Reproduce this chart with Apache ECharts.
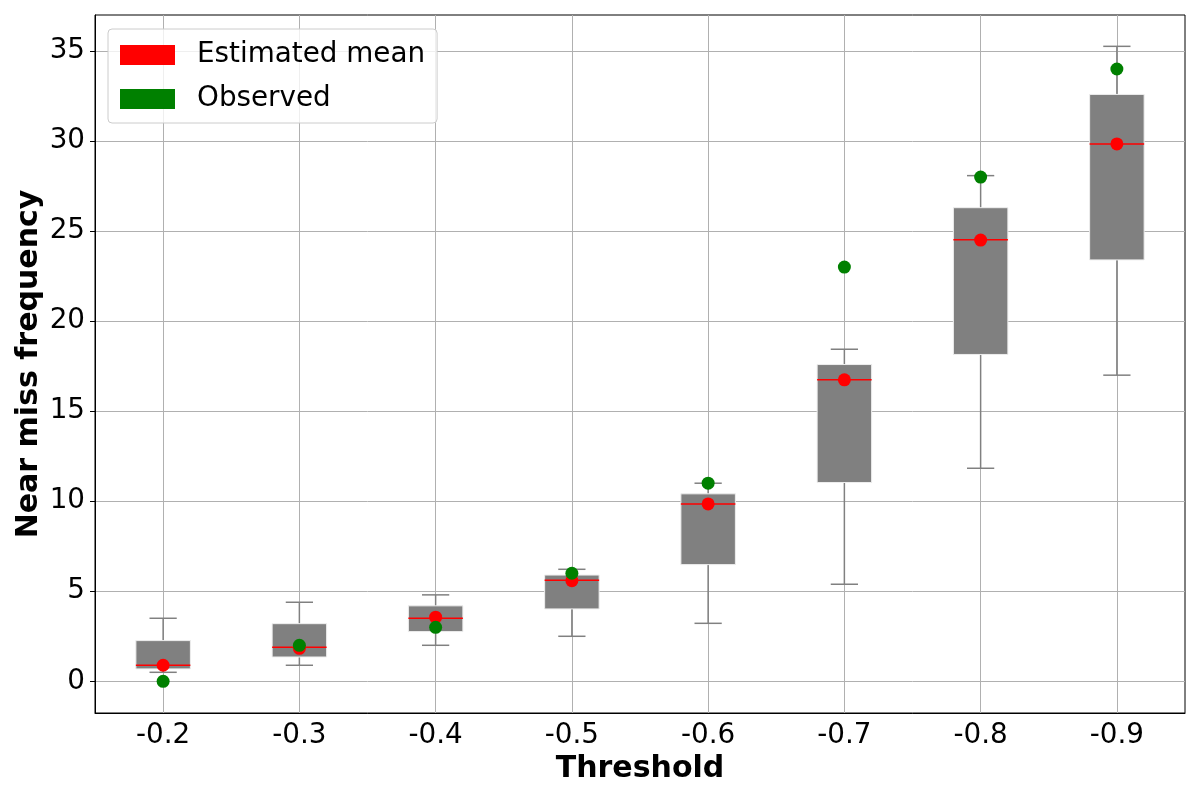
<!DOCTYPE html>
<html>
<head>
<meta charset="utf-8">
<script src="https://cdn.jsdelivr.net/npm/echarts@6/dist/echarts.min.js"></script>
<style>
html, body { margin: 0; padding: 0; background: #fff; }
#chart { width: 1200px; height: 800px; }
</style>
</head>
<body>
<div id="chart"></div>
<script>
// values
var thresholds = ['-0.2', '-0.3', '-0.4', '-0.5', '-0.6', '-0.7', '-0.8', '-0.9'];
var whiskerLow = [0.5, 0.89, 2.0, 2.5, 3.22, 5.39, 11.83, 17.0];
var q1 = [0.69, 1.35, 2.76, 4.02, 6.48, 11.04, 18.15, 23.4];
var medians = [0.89, 1.89, 3.5, 5.61, 9.85, 16.74, 24.52, 29.84];
var q3 = [2.26, 3.2, 4.19, 5.9, 10.41, 17.59, 26.3, 32.59];
var whiskerHigh = [3.5, 4.39, 4.8, 6.22, 11.0, 18.44, 28.08, 35.26];
var estimatedMean = [0.89, 1.83, 3.56, 5.59, 9.85, 16.74, 24.5, 29.84];
var observed = [0, 2, 3, 6, 11, 23, 28, 34];
var yTicks = [0, 5, 10, 15, 20, 25, 30, 35];

var font = 'DejaVu Sans';

var boxData = [];
for (var i = 0; i < thresholds.length; i++) {
    boxData.push([i, whiskerLow[i], q1[i], medians[i], q3[i], whiskerHigh[i]]);
}

function renderBox(params, api) {
    var idx = api.value(0);
    var band = api.size([1, 0])[0];
    var boxW = band * 0.4;
    var capW = band * 0.2;
    var low = api.coord([idx, api.value(1)]);
    var b1 = api.coord([idx, api.value(2)]);
    var med = api.coord([idx, api.value(3)]);
    var b3 = api.coord([idx, api.value(4)]);
    var high = api.coord([idx, api.value(5)]);
    var x = low[0];
    var grey = { stroke: '#808080', lineWidth: 1.5 };
    return {
        type: 'group',
        children: [
            { type: 'line', shape: { x1: x, y1: low[1], x2: x, y2: b1[1] }, style: grey },
            { type: 'line', shape: { x1: x, y1: b3[1], x2: x, y2: high[1] }, style: grey },
            { type: 'line', shape: { x1: x - capW / 2, y1: low[1], x2: x + capW / 2, y2: low[1] }, style: grey },
            { type: 'line', shape: { x1: x - capW / 2, y1: high[1], x2: x + capW / 2, y2: high[1] }, style: grey },
            {
                type: 'rect',
                shape: { x: x - boxW / 2, y: b3[1], width: boxW, height: b1[1] - b3[1] },
                style: { fill: '#808080', stroke: '#eeeeee', lineWidth: 1 }
            },
            { type: 'line', shape: { x1: x - boxW / 2, y1: med[1], x2: x + boxW / 2, y2: med[1] }, style: { stroke: '#ff0000', lineWidth: 1.5 } }
        ]
    };
}

var option = {
    animation: false,
    backgroundColor: '#fff',
    textStyle: { fontFamily: font },
    grid: {
        left: 95, right: 15, top: 15, bottom: 87,
        show: true, borderColor: '#000', borderWidth: 1
    },
    legend: {
        orient: 'vertical',
        left: 108,
        top: 29,
        padding: [12, 12, 10, 12],
        itemWidth: 55,
        itemHeight: 20,
        itemGap: 16,
        icon: 'rect',
        backgroundColor: 'rgba(255,255,255,0.8)',
        borderColor: '#cccccc',
        borderWidth: 1,
        borderRadius: 4,
        textStyle: { fontFamily: font, fontSize: 27.8, color: '#000', padding: [0, 0, 0, 17] },
        data: ['Estimated mean', 'Observed']
    },
    xAxis: {
        type: 'category',
        data: thresholds,
        name: 'Threshold',
        nameLocation: 'middle',
        nameGap: 41,
        nameMoveOverlap: false,
        nameTextStyle: { fontFamily: font, fontSize: 30, fontWeight: 'bold', color: '#000' },
        axisLine: { onZero: false, lineStyle: { color: '#000', width: 1 } },
        axisTick: { alignWithLabel: true, length: 5, lineStyle: { color: '#000' } },
        axisLabel: { fontFamily: font, fontSize: 27.8, color: '#000', margin: 9 },
        splitLine: { show: true, alignWithLabel: true, lineStyle: { color: '#b0b0b0', width: 1 } }
    },
    yAxis: {
        type: 'value',
        min: -1.76,
        max: 37.0,
        splitNumber: 8,
        name: 'Near miss frequency',
        nameLocation: 'middle',
        nameGap: 51,
        nameMoveOverlap: false,
        nameTextStyle: { fontFamily: font, fontSize: 30, fontWeight: 'bold', color: '#000' },
        axisLine: { show: true, onZero: false, lineStyle: { color: '#000', width: 1 } },
        axisTick: { show: true, length: 5, lineStyle: { color: '#000' }, customValues: yTicks },
        axisLabel: { fontFamily: font, fontSize: 27.8, color: '#000', margin: 10, customValues: yTicks },
        splitLine: { show: true, lineStyle: { color: '#b0b0b0', width: 1 } }
    },
    series: [
        {
            name: 'boxes',
            type: 'custom',
            renderItem: renderBox,
            encode: { x: 0, y: [1, 2, 3, 4, 5] },
            data: boxData,
            z: 2
        },
        {
            name: 'Estimated mean',
            type: 'scatter',
            data: estimatedMean,
            symbolSize: 13,
            itemStyle: { color: '#ff0000', opacity: 1 },
            z: 3
        },
        {
            name: 'Observed',
            type: 'scatter',
            data: observed,
            symbolSize: 13,
            itemStyle: { color: '#008000', opacity: 1 },
            z: 4
        }
    ]
};

var chart = echarts.init(document.getElementById('chart'));
chart.setOption(option);
</script>
</body>
</html>
